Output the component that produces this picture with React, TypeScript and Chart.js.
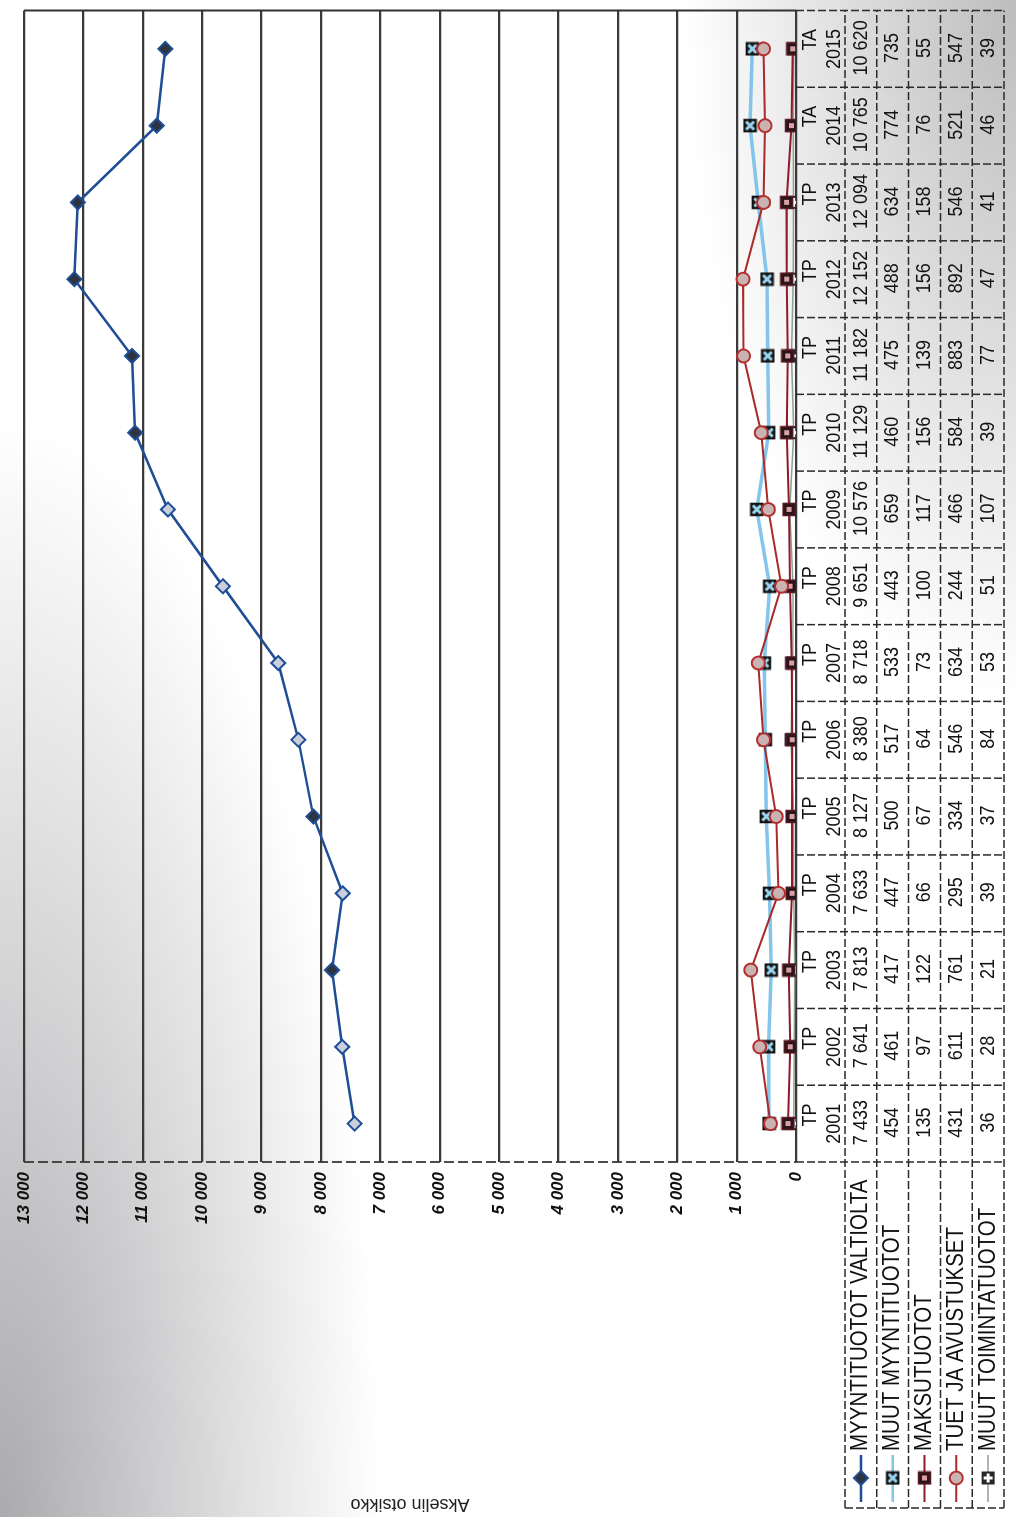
import React, { useEffect, useRef } from 'react';
import { Chart, registerables } from 'chart.js';

Chart.register(...registerables);

// ---------- DATA ----------
const categories = [
  'TP 2001', 'TP 2002', 'TP 2003', 'TP 2004', 'TP 2005', 'TP 2006', 'TP 2007', 'TP 2008',
  'TP 2009', 'TP 2010', 'TP 2011', 'TP 2012', 'TP 2013', 'TA 2014', 'TA 2015',
];
const seriesNames = [
  'MYYNTITUOTOT VALTIOLTA',
  'MUUT MYYNTITUOTOT',
  'MAKSUTUOTOT',
  'TUET JA AVUSTUKSET',
  'MUUT TOIMINTATUOTOT',
];
const myyntituototValtiolta = [7433, 7641, 7813, 7633, 8127, 8380, 8718, 9651, 10576, 11129, 11182, 12152, 12094, 10765, 10620];
const muutMyyntituotot = [454, 461, 417, 447, 500, 517, 533, 443, 659, 460, 475, 488, 634, 774, 735];
const maksutuotot = [135, 97, 122, 66, 67, 64, 73, 100, 117, 156, 139, 156, 158, 76, 55];
const tuetJaAvustukset = [431, 611, 761, 295, 334, 546, 634, 244, 466, 584, 883, 892, 546, 521, 547];
const muutToimintatuotot = [36, 28, 21, 39, 37, 84, 53, 51, 107, 39, 77, 47, 41, 46, 39];
const yTicks = [0, 1000, 2000, 3000, 4000, 5000, 6000, 7000, 8000, 9000, 10000, 11000, 12000, 13000];
const axisTitle = 'Akselin otsikko';

// ---------- STYLE ----------
const FONT = "'Liberation Sans', Arial, sans-serif";
const lineColors = ['#1f4e96', 'rgba(110,188,232,0.85)', '#8c1c2c', '#a82a2a', '#8fa08f'];
const lineWidths = [2.5, 3.5, 2, 2, 1.5];
const s1Dark = '#2f3340';
const s1Light = '#c9d0dc';
const s1DarkIdx = [2, 4, 9, 10, 11, 12, 13, 14];

const fmt = (n: number) => String(n).replace(/\B(?=(\d{3})+(?!\d))/g, ' ');

function mk(size: number, draw: (c: CanvasRenderingContext2D, s: number) => void) {
  const cv = document.createElement('canvas');
  cv.width = size;
  cv.height = size;
  draw(cv.getContext('2d')!, size);
  return cv;
}

export default function App() {
  const ref = useRef<HTMLCanvasElement>(null);

  useEffect(() => {
    const canvas = ref.current!;

    const mMuutMyynti = mk(15, (c) => {
      c.fillStyle = '#1c1c1c';
      c.fillRect(1, 1, 13, 13);
      c.strokeStyle = '#9ad6f2';
      c.lineWidth = 3;
      c.beginPath();
      c.moveTo(3.5, 3.5); c.lineTo(11.5, 11.5);
      c.moveTo(11.5, 3.5); c.lineTo(3.5, 11.5);
      c.stroke();
      c.strokeStyle = '#111';
      c.lineWidth = 1.5;
      c.strokeRect(1.5, 1.5, 12, 12);
    });
    const mMaksu = mk(15, (c) => {
      c.fillStyle = '#2a1518';
      c.fillRect(1, 1, 13, 13);
      c.strokeStyle = '#5a1a22';
      c.lineWidth = 1.5;
      c.strokeRect(1.5, 1.5, 12, 12);
      c.fillStyle = '#d9a0a8';
      c.fillRect(5, 5, 5, 5);
    });
    const mMuutToim = mk(15, (c) => {
      c.fillStyle = '#262626';
      c.fillRect(1, 1, 13, 13);
      c.strokeStyle = '#ffffff';
      c.lineWidth = 3;
      c.beginPath();
      c.moveTo(7.5, 3); c.lineTo(7.5, 12);
      c.moveTo(3, 7.5); c.lineTo(12, 7.5);
      c.stroke();
    });

    const drawText = (ctx: CanvasRenderingContext2D, t: string, x: number, y: number, align: CanvasTextAlign, stretch: number) => {
      ctx.save();
      ctx.translate(x, y);
      ctx.scale(1, stretch);
      ctx.textAlign = align;
      ctx.textBaseline = 'middle';
      ctx.fillText(t, 0, 0);
      ctx.restore();
    };

    const tablePlugin = {
      id: 'dataTable',
      afterDraw(chart: any) {
        const ctx: CanvasRenderingContext2D = chart.ctx;
        const area = chart.chartArea;
        const xs = chart.scales.x;
        const n = categories.length;
        const colW = (area.right - area.left) / n;
        const headerTop = area.bottom;
        const rowTop = 845;
        const rowH = 31.8;
        const tableBottom = rowTop + rowH * 5;
        const legendLeft = 9;

        ctx.save();
        // right border of plot
        ctx.strokeStyle = '#333';
        ctx.lineWidth = 2;
        ctx.beginPath();
        ctx.moveTo(area.right, area.top);
        ctx.lineTo(area.right, area.bottom);
        ctx.stroke();

        // left border of plot (dashed in the scan)
        ctx.strokeStyle = '#3a3a3a';
        ctx.lineWidth = 1.8;
        ctx.setLineDash([10, 4]);
        ctx.beginPath();
        ctx.moveTo(area.left, area.top);
        ctx.lineTo(area.left, area.bottom);
        ctx.stroke();

        // table lines (dashed)
        ctx.strokeStyle = '#2a2a2a';
        ctx.lineWidth = 1.5;
        ctx.setLineDash([8, 3]);
        ctx.beginPath();
        for (let i = 0; i <= n; i++) {
          const x = area.left + i * colW;
          ctx.moveTo(x, headerTop);
          ctx.lineTo(x, tableBottom);
        }
        for (let r = 0; r <= 5; r++) {
          const y = rowTop + r * rowH;
          ctx.moveTo(legendLeft, y);
          ctx.lineTo(area.right, y);
        }
        ctx.moveTo(legendLeft, rowTop);
        ctx.lineTo(legendLeft, tableBottom);
        ctx.stroke();
        ctx.setLineDash([]);

        // header labels
        ctx.fillStyle = '#111';
        ctx.font = `18px ${FONT}`;
        categories.forEach((cat, i) => {
          const cx = xs.getPixelForValue(i);
          const [p, yr] = cat.split(' ');
          drawText(ctx, p, cx + 20, 810, 'right', 1.15);
          drawText(ctx, yr, cx + 20, 834, 'right', 1.15);
        });

        // values
        const rows = [myyntituototValtiolta, muutMyyntituotot, maksutuotot, tuetJaAvustukset, muutToimintatuotot];
        rows.forEach((vals, r) => {
          const cy = rowTop + rowH * (r + 0.5);
          vals.forEach((v, i) => {
            const cx = xs.getPixelForValue(i);
            drawText(ctx, fmt(v), cx + 1, cy, 'center', 1.15);
          });
        });

        // legend keys + names
        rows.forEach((_, r) => {
          const cy = rowTop + rowH * (r + 0.5);
          ctx.strokeStyle = lineColors[r];
          ctx.lineWidth = Math.min(lineWidths[r], 2.5);
          ctx.beginPath();
          ctx.moveTo(15, cy);
          ctx.lineTo(62, cy);
          ctx.stroke();
          const mx = 39;
          if (r === 0) {
            ctx.beginPath();
            ctx.moveTo(mx, cy - 7);
            ctx.lineTo(mx + 7, cy);
            ctx.lineTo(mx, cy + 7);
            ctx.lineTo(mx - 7, cy);
            ctx.closePath();
            ctx.fillStyle = s1Dark;
            ctx.fill();
            ctx.strokeStyle = '#1f4e96';
            ctx.lineWidth = 2;
            ctx.stroke();
          } else if (r === 3) {
            ctx.beginPath();
            ctx.arc(mx, cy, 6.5, 0, Math.PI * 2);
            ctx.fillStyle = '#c9b3b3';
            ctx.fill();
            ctx.strokeStyle = '#b3302f';
            ctx.lineWidth = 2;
            ctx.stroke();
          } else {
            const img = r === 1 ? mMuutMyynti : r === 2 ? mMaksu : mMuutToim;
            ctx.drawImage(img, mx - 7.5, cy - 7.5);
          }
          ctx.fillStyle = '#111';
          ctx.font = `20.5px ${FONT}`;
          drawText(ctx, seriesNames[r], 66, cy, 'left', 1.15);
        });
        ctx.restore();
      },
    };

    const chart = new Chart(canvas, {
      type: 'line',
      data: {
        labels: categories,
        datasets: [
          {
            label: seriesNames[0],
            data: myyntituototValtiolta,
            borderColor: lineColors[0],
            borderWidth: lineWidths[0],
            pointStyle: 'rectRot',
            pointRadius: 7,
            pointBorderWidth: 2,
            pointBorderColor: '#1f4e96',
            pointBackgroundColor: myyntituototValtiolta.map((_, i) => (s1DarkIdx.includes(i) ? s1Dark : s1Light)),
            order: 1,
          },
          {
            label: seriesNames[1],
            data: muutMyyntituotot,
            borderColor: lineColors[1],
            borderWidth: lineWidths[1],
            pointStyle: mMuutMyynti as any,
            pointRadius: 7,
            order: 5,
          },
          {
            label: seriesNames[2],
            data: maksutuotot,
            borderColor: lineColors[2],
            borderWidth: lineWidths[2],
            pointStyle: mMaksu as any,
            pointRadius: 7,
            order: 3,
          },
          {
            label: seriesNames[3],
            data: tuetJaAvustukset,
            borderColor: lineColors[3],
            borderWidth: lineWidths[3],
            pointStyle: 'circle',
            pointRadius: 6.5,
            pointBorderWidth: 2,
            pointBorderColor: '#b3302f',
            pointBackgroundColor: '#c9b3b3',
            order: 2,
          },
          {
            label: seriesNames[4],
            data: muutToimintatuotot,
            borderColor: lineColors[4],
            borderWidth: lineWidths[4],
            pointStyle: mMuutToim as any,
            pointRadius: 7,
            order: 4,
          },
        ],
      },
      options: {
        responsive: false,
        animation: false,
        layout: { padding: { top: 24, right: 5, bottom: 220, left: 0 } },
        plugins: {
          legend: { display: false },
          tooltip: { enabled: false },
        },
        scales: {
          x: {
            type: 'category',
            display: false,
            offset: true,
          },
          y: {
            min: 0,
            max: 13000,
            afterBuildTicks: (scale: any) => {
              scale.ticks = yTicks.map((v) => ({ value: v }));
            },
            afterFit: (scale: any) => {
              scale.width = 355;
            },
            ticks: {
              padding: 10,
              color: '#111',
              font: { family: FONT, size: 17, style: 'italic', weight: 'bold' },
              callback: (v: any) => fmt(Number(v)),
            },
            grid: {
              color: '#3a3a3a',
              lineWidth: 2.2,
              drawTicks: false,
            },
            border: { display: false },
            title: {
              display: true,
              text: axisTitle,
              color: '#222',
              font: { family: FONT, size: 18 },
              padding: { top: 2, bottom: 0 },
            },
          },
        },
      },
      plugins: [tablePlugin],
    });

    return () => chart.destroy();
  }, []);

  return (
    <div
      style={{
        position: 'fixed',
        left: 0,
        top: 0,
        width: 1016,
        height: 1517,
        overflow: 'hidden',
        background:
          'radial-gradient(ellipse 380px 1100px at 0% 100%, rgba(135,135,140,0.7) 0%, rgba(255,255,255,0) 100%), ' +
          'radial-gradient(ellipse 330px 700px at 100% 0%, rgba(160,160,160,0.7) 0%, rgba(255,255,255,0) 100%), #ffffff',
      }}
    >
      <div
        style={{
          position: 'absolute',
          left: 0,
          top: 0,
          width: 1517,
          height: 1016,
          transform: 'translateY(1517px) rotate(-90deg)',
          transformOrigin: '0 0',
        }}
      >
        <canvas ref={ref} width={1517} height={1016} style={{ display: 'block', width: 1517, height: 1016 }} />
      </div>
    </div>
  );
}
